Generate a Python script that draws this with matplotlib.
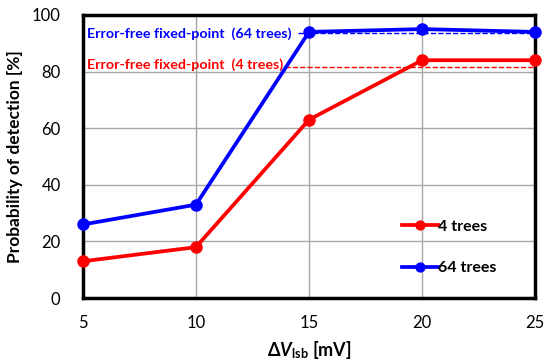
import matplotlib
matplotlib.use("Agg")
import matplotlib.pyplot as plt

plt.rcParams['font.family'] = ['Lato', 'DejaVu Sans']
plt.rcParams['mathtext.fontset'] = 'custom'
plt.rcParams['mathtext.rm'] = 'Lato'
plt.rcParams['mathtext.bf'] = 'Lato:bold'
plt.rcParams['mathtext.it'] = 'Lato:italic'
plt.rcParams['mathtext.bfit'] = 'Lato:bold:italic'

# data
dv_lsb = [5, 10, 15, 20, 25]
trees4 = [13, 18, 63, 84, 84]
trees64 = [26, 33, 94, 95, 94]
fixed_point_4 = 81.6
fixed_point_64 = 93.6

fig = plt.figure(figsize=(5.45, 3.64), dpi=100)
ax = fig.add_axes([0.152, 0.181, 0.830, 0.778])

ax.grid(True, color='#a6a6a6', linewidth=1.0)
ax.set_axisbelow(True)

# error-free reference lines
ax.plot([14.5, 25.2], [fixed_point_64, fixed_point_64], linestyle='--', color='b', linewidth=1.0, clip_on=False)
ax.plot([13.95, 25], [fixed_point_4, fixed_point_4], linestyle='--', color='r', linewidth=1.0)
ax.text(5.2, fixed_point_64 - 0.3, "Error-free fixed-point  (64 trees)", color='b', fontsize=10.3,
        fontweight='bold', va='center', ha='left')
ax.text(5.2, fixed_point_4 + 0.8, "Error-free fixed-point  (4 trees)", color='r', fontsize=10.3,
        fontweight='bold', va='center', ha='left')

ax.plot(dv_lsb, trees4, marker='o', markersize=8, linestyle='-', linewidth=2.7, color='r',
        label="4 trees", clip_on=False, zorder=3)
ax.plot(dv_lsb, trees64, marker='o', markersize=8, linestyle='-', linewidth=2.7, color='b',
        label="64 trees", clip_on=False, zorder=3)

ax.set_xlim(5, 25)
ax.set_ylim(0, 100)
ax.set_xticks([5, 10, 15, 20, 25])
ax.set_yticks([0, 20, 40, 60, 80, 100])
ax.tick_params(axis='both', length=0, labelsize=12, pad=12)
ax.tick_params(axis='y', pad=16)
for s in ax.spines.values():
    s.set_linewidth(2.5)
    s.set_color('black')

ax.set_ylabel("Probability of detection [%]", fontsize=12.5, fontweight='bold', labelpad=6)
ax.set_xlabel(r"$\mathbf{\Delta}\mathbfit{V}_{\mathbf{lsb}}$ [mV]", fontsize=13, fontweight='bold', labelpad=6)

ax.legend(loc='lower right', bbox_to_anchor=(0.945, 0.03), frameon=False,
          prop={'weight': 'bold', 'size': 11.5}, handlelength=2.2, handletextpad=0.0,
          labelspacing=1.7, markerscale=0.8)

fig.savefig("out.png", dpi=100)
